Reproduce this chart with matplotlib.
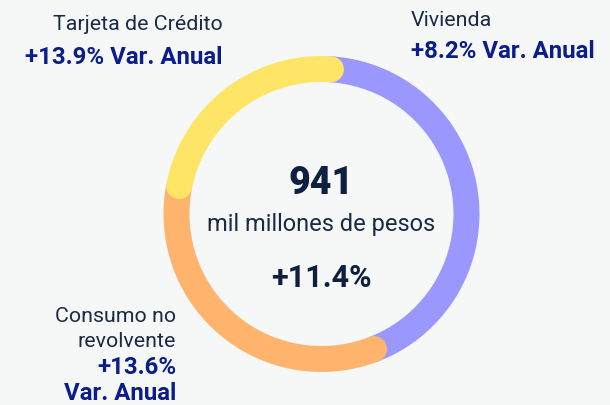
import numpy as np
import matplotlib
matplotlib.use('Agg')
import matplotlib.pyplot as plt

# datos (miles de millones de pesos)
categorias = ['Vivienda', 'Consumo no revolvente', 'Tarjeta de Crédito']
valores = [405, 320, 216]
variaciones = ['+8.2%', '+13.6%', '+13.9%']
colores = ['#9A97FF', '#FFB46E', '#FFE566']
total_txt = '941'
var_total = '+11.4%'

plt.rcParams['font.family'] = ['Roboto', 'DejaVu Sans']
fondo = '#F6F8F8'
azul = '#0B1C8C'
texto = '#1B2A44'

fig = plt.figure(figsize=(6.1, 4.06), dpi=100)
fig.patch.set_facecolor(fondo)
ax = fig.add_axes([0, 0, 1, 1])
ax.set_xlim(0, 610)
ax.set_ylim(406, 0)
ax.set_aspect('equal')
ax.axis('off')

cx, cy, r = 321.5, 215, 145
grosor = 26 * 0.72
inicio = 3.75
total = sum(valores)
ang = inicio
for v, c in zip(valores, colores):
    barrido = v / total * 360
    t = np.radians(np.linspace(ang, ang + barrido, 200))
    ax.plot(cx + r * np.sin(t), cy - r * np.cos(t), color=c, lw=grosor,
            solid_capstyle='round')
    ang += barrido

# centro
ax.text(cx, 184, total_txt, ha='center', va='center', fontsize=27,
        fontweight='heavy', color='#0E1F3F')
ax.text(cx, 225, 'mil millones de pesos', ha='center', va='center',
        fontsize=17, color=texto)
ax.text(cx, 278, var_total, ha='center', va='center', fontsize=22,
        fontweight='bold', color='#0E1F3F')

# etiquetas
reg = 15.4
neg = 17.3
ax.text(223, 25, 'Tarjeta de Crédito', ha='right', va='center', fontsize=reg, color=texto)
ax.text(223, 58, variaciones[2] + ' Var. Anual', ha='right', va='center',
        fontsize=neg, fontweight='bold', color=azul)

ax.text(411, 20, categorias[0], ha='left', va='center', fontsize=reg, color=texto)
ax.text(411, 52, variaciones[0] + ' Var. Anual', ha='left', va='center',
        fontsize=neg, fontweight='bold', color=azul)

ax.text(176, 317, 'Consumo no', ha='right', va='center', fontsize=reg, color=texto)
ax.text(176, 342, 'revolvente', ha='right', va='center', fontsize=reg, color=texto)
ax.text(176, 368, variaciones[1], ha='right', va='center', fontsize=neg,
        fontweight='bold', color=azul)
ax.text(176, 394, 'Var. Anual', ha='right', va='center', fontsize=neg,
        fontweight='bold', color=azul)

fig.savefig('out.png', dpi=100, facecolor=fondo)
